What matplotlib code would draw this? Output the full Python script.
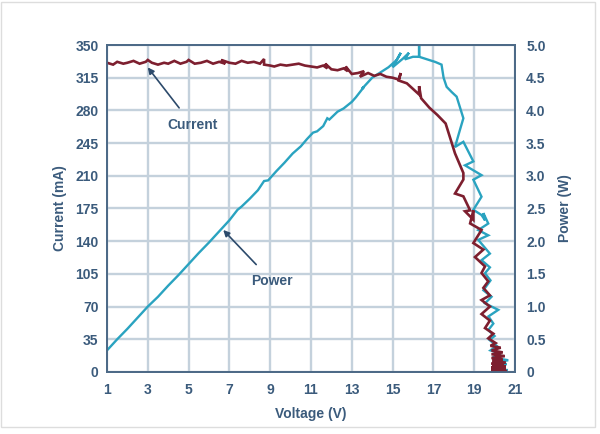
import matplotlib
matplotlib.use("Agg")
import matplotlib.pyplot as plt
from matplotlib.patches import Rectangle

# data
cur_v = [1.0, 1.3, 1.5, 1.8, 2.0, 2.3, 2.6, 2.9, 3.0, 3.2, 3.5, 3.8, 4.0, 4.3,
         4.6, 4.9, 5.0, 5.3, 5.6, 5.9, 6.2, 6.5, 6.8, 6.6, 7.0, 7.3, 7.6, 7.9,
         8.2, 8.5, 8.7, 8.7, 9.0, 9.2, 9.5, 9.8, 10.1, 10.4, 10.7, 11.0, 11.3,
         11.6, 11.8, 11.7, 12.0, 12.3, 12.6, 12.8, 12.7, 13.0, 13.3, 13.6, 13.4,
         13.8, 14.1, 14.4, 14.7, 15.0, 15.3, 15.4, 15.3, 15.7, 16.0, 16.3,
         16.3, 16.4, 16.8, 17.2, 17.6, 18.06, 18.47, 18.47, 18.06, 18.47,
         18.8, 18.55, 18.96, 18.96, 18.8, 19.36, 18.96, 19.45, 19.04, 19.53,
         19.36, 19.69, 19.45, 19.77, 19.36, 19.77, 19.36, 19.77, 19.53, 19.94,
         19.69, 20.05, 19.8, 20.3, 19.85, 20.4, 19.85, 20.5, 19.85, 20.4, 19.9,
         20.55, 19.85, 20.45, 19.9, 20.55, 19.85, 20.4, 19.85, 20.55, 19.85, 20.45,
         19.9, 20.55, 19.85, 20.55, 19.85, 20.55]
cur_ma = [331, 329, 332, 330, 331, 333, 330, 332, 334, 331, 329, 331, 330, 333,
          330, 332, 334, 330, 331, 333, 330, 332, 330, 334, 331, 330, 333, 331,
          332, 330, 335, 329, 328, 327, 329, 328, 329, 330, 328, 327, 326,
          328, 325, 330, 324, 323, 325, 322, 327, 319, 320, 322, 316,
          320, 317, 319, 316, 315, 313, 320, 312, 309, 303, 297,
          306, 293, 283, 275, 266, 234, 213, 206, 191, 188,
          173, 172, 163, 173, 159, 152, 138, 131, 123, 113,
          106, 97, 90, 82, 77, 70, 62, 55, 47, 41,
          36, 31, 28, 26, 23, 21, 19, 17, 15, 13, 12,
          10, 9, 8, 7, 6, 5, 5, 4, 4, 3, 3,
          2, 2, 2, 2, 1, 1]

pow_v = [1.0, 1.5, 2.0, 2.5, 3.0, 3.5, 4.0, 4.5, 5.0, 5.5, 6.0, 6.5, 7.0,
         7.4, 7.6, 8.0, 8.4, 8.7, 8.9, 9.3, 9.7, 10.1, 10.5, 10.8, 11.1, 11.3,
         11.6, 11.8, 11.9, 12.3, 12.6, 13.0, 13.2, 13.6, 13.5, 14.0, 14.4,
         14.8, 15.2, 15.4, 15.0, 15.5, 15.8, 15.6, 16.0, 16.3, 16.3, 16.3,
         16.7, 17.1, 17.4, 17.5, 17.65, 17.9, 18.14, 18.3, 18.47, 18.3, 18.06,
         18.47, 18.96, 18.55, 19.36, 18.96, 19.36, 18.96, 19.36, 19.53, 19.45,
         19.69, 19.2, 19.69, 19.2, 19.77, 19.36, 19.77, 19.53, 19.8, 19.45,
         19.85, 19.53, 20.18, 19.7, 19.94, 19.69, 20.0, 19.75, 20.1, 19.8,
         20.3, 19.9, 20.67, 20.0, 20.6, 19.9, 20.5, 20.0, 20.6]
pow_w = [0.33, 0.50, 0.66, 0.83, 1.00, 1.15, 1.32, 1.48, 1.65, 1.82, 1.98,
         2.15, 2.32, 2.48, 2.53, 2.65, 2.78, 2.92, 2.93, 3.07, 3.20, 3.34,
         3.45, 3.56, 3.66, 3.68, 3.76, 3.88, 3.86, 3.98, 4.03, 4.13, 4.20,
         4.36, 4.33, 4.50, 4.58, 4.66, 4.77, 4.88, 4.66, 4.79, 4.88, 4.78,
         4.82, 4.82, 5.00, 4.82, 4.78, 4.74, 4.70, 4.50, 4.36, 4.28, 4.21,
         4.05, 3.88, 3.70, 3.44, 3.52, 3.22, 3.16, 3.01, 2.94, 2.68, 2.48,
         2.40, 2.32, 2.43, 2.27, 2.17, 2.09, 2.02, 1.81, 1.71, 1.60, 1.51,
         1.40, 1.25, 1.15, 1.05, 0.95, 0.85, 0.74, 0.64, 0.55, 0.49, 0.40,
         0.33, 0.28, 0.22, 0.18, 0.14, 0.12, 0.08, 0.06, 0.04, 0.03]

xticks = [1, 3, 5, 7, 9, 11, 13, 15, 17, 19, 21]
yticks_ma = [0, 35, 70, 105, 140, 175, 210, 245, 280, 315, 350]
yticks_w = [0, 0.5, 1.0, 1.5, 2.0, 2.5, 3.0, 3.5, 4.0, 4.5, 5.0]

red = '#7d1f2f'
blue = '#2aa3c0'
txt = '#3b5b7c'
spine = '#4d6a87'
gridc = '#c4d1dc'
fs = 10

plt.rcParams['font.family'] = ['Liberation Sans', 'DejaVu Sans']
plt.rcParams['font.weight'] = 'bold'

fig = plt.figure(figsize=(6, 4.34), dpi=100)
# bottom axes: power (right side) with the grid; top axes: current (left side)
axp = fig.add_axes([0.1783, 0.1429, 0.68, 0.7534])
axc = axp.twinx()
axp.yaxis.tick_right()
axp.yaxis.set_label_position('right')
axc.yaxis.tick_left()
axc.yaxis.set_label_position('left')

axp.plot(pow_v, pow_w, color=blue, lw=1.7, solid_joinstyle='miter')
axc.plot(cur_v, cur_ma, color=red, lw=1.9, solid_joinstyle='miter')

axp.set_xlim(1, 21)
axp.set_ylim(0, 5)
axc.set_ylim(0, 350)
axp.set_xticks(xticks)
axc.set_yticks(yticks_ma)
axp.set_yticks(yticks_w)
axp.set_yticklabels(['0'] + ['%.1f' % t for t in yticks_w[1:]])

axp.grid(True, color=gridc, lw=1.7)
axp.set_axisbelow(True)

for a in (axp, axc):
    for s in a.spines.values():
        s.set_color(spine)
        s.set_linewidth(1.3)
    a.tick_params(length=0, labelsize=fs, labelcolor=txt)
axc.tick_params(axis='y', pad=6)
axp.tick_params(axis='x', pad=8)
axp.tick_params(axis='y', pad=8)

axp.set_xlabel('Voltage (V)', fontsize=fs, color=txt, fontweight='bold', labelpad=7)
axc.set_ylabel('Current (mA)', fontsize=fs, color=txt, fontweight='bold', labelpad=6)
axp.set_ylabel('Power (W)', fontsize=fs, color=txt, fontweight='bold',
               rotation=90, labelpad=9)

axc.annotate('Current', xy=(3.0, 326), xytext=(5.2, 264), ha='center', va='center',
             fontsize=fs, fontweight='bold', color=txt,
             arrowprops=dict(arrowstyle='-|>', color='#2c4a6b', lw=1.2,
                             mutation_scale=9, shrinkA=7, shrinkB=0))
axc.annotate('Power', xy=(6.7, 152), xytext=(9.1, 97), ha='center', va='center',
             fontsize=fs, fontweight='bold', color=txt,
             arrowprops=dict(arrowstyle='-|>', color='#2c4a6b', lw=1.2,
                             mutation_scale=9, shrinkA=7, shrinkB=0))

# faint frame round the picture
fig.patches.append(Rectangle((0.002, 0.016), 0.99, 0.98, transform=fig.transFigure,
                             fill=False, edgecolor='#dddddd', lw=1))

fig.savefig('out.png', dpi=100)
